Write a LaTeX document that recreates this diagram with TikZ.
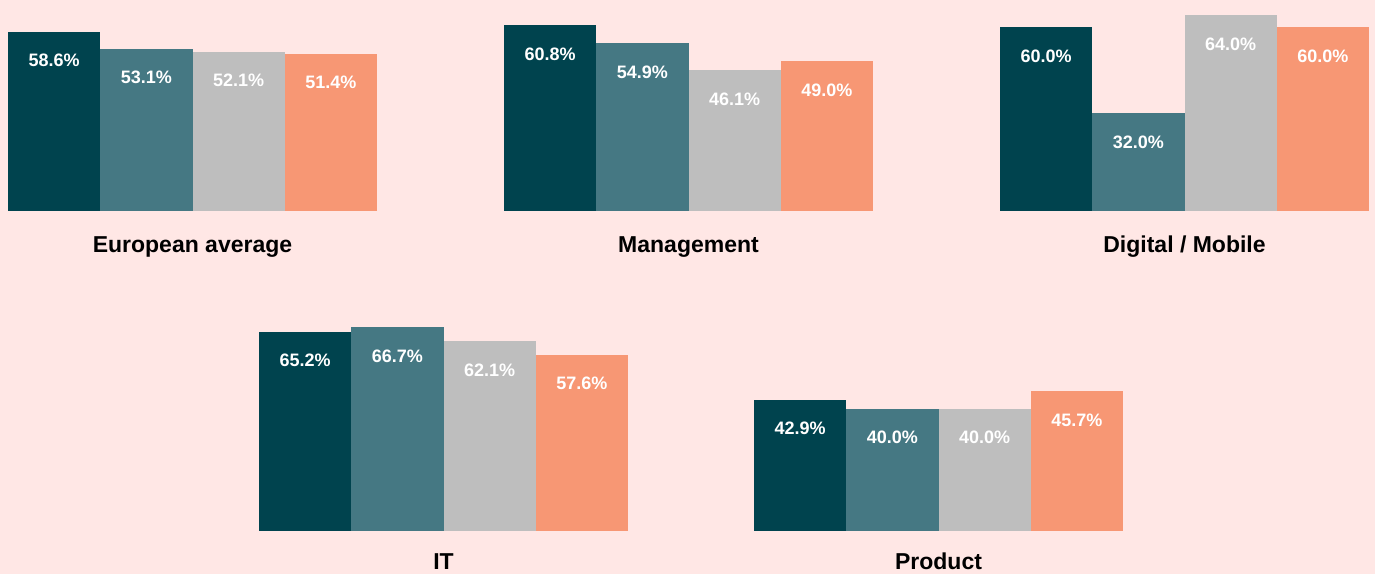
\documentclass[tikz,border=0pt]{standalone}
\usepackage{fontspec}
\setmainfont{Liberation Sans}
\usetikzlibrary{positioning}
\definecolor{deepteal}{HTML}{00434E}
\definecolor{midteal}{HTML}{457883}
\definecolor{softgray}{HTML}{BEBEBE}
\definecolor{salmon}{HTML}{F79774}
\definecolor{blush}{HTML}{FFE7E5}

\begin{document}
\begin{tikzpicture}[x=1pt, y=-1pt,
    bar/.style={minimum width=92.25pt, inner sep=0, outer sep=0, anchor=south west},
    val/.style={text=white, inner sep=0, font=\bfseries\fontsize{18}{18}\selectfont},
    cat/.style={anchor=north, inner sep=0, font=\bfseries\fontsize{23}{23}\selectfont}]
  \fill[blush] (0,0) rectangle (1375,574);
  \useasboundingbox (0,0) rectangle (1375,574);

  % European average
  \node[bar, fill=deepteal, minimum height=179.3pt] (eu1) at (8,211) {};
  \node[bar, fill=midteal, minimum height=162.5pt] (eu2) at (eu1.south east) {};
  \node[bar, fill=softgray, minimum height=159.4pt] (eu3) at (eu2.south east) {};
  \node[bar, fill=salmon, minimum height=157.3pt] (eu4) at (eu3.south east) {};
  \node[val] (eu1v) at ([yshift=-29pt]eu1.north) {58.6\%};
  \node[val] (eu2v) at ([yshift=-29pt]eu2.north) {53.1\%};
  \node[val] (eu3v) at ([yshift=-29pt]eu3.north) {52.1\%};
  \node[val] (eu4v) at ([yshift=-29pt]eu4.north) {51.4\%};
  \node[cat, below=25pt of eu2.south east] (eulab) {European average};

  % Management
  \node[bar, fill=deepteal, minimum height=186.0pt] (mg1) at (504,211) {};
  \node[bar, fill=midteal, minimum height=168.0pt] (mg2) at (mg1.south east) {};
  \node[bar, fill=softgray, minimum height=141.1pt] (mg3) at (mg2.south east) {};
  \node[bar, fill=salmon, minimum height=149.9pt] (mg4) at (mg3.south east) {};
  \node[val] (mg1v) at ([yshift=-29pt]mg1.north) {60.8\%};
  \node[val] (mg2v) at ([yshift=-29pt]mg2.north) {54.9\%};
  \node[val] (mg3v) at ([yshift=-29pt]mg3.north) {46.1\%};
  \node[val] (mg4v) at ([yshift=-29pt]mg4.north) {49.0\%};
  \node[cat, below=25pt of mg2.south east] (mglab) {Management};

  % Digital / Mobile
  \node[bar, fill=deepteal, minimum height=183.6pt] (dm1) at (1000,211) {};
  \node[bar, fill=midteal, minimum height=97.9pt] (dm2) at (dm1.south east) {};
  \node[bar, fill=softgray, minimum height=195.8pt] (dm3) at (dm2.south east) {};
  \node[bar, fill=salmon, minimum height=183.6pt] (dm4) at (dm3.south east) {};
  \node[val] (dm1v) at ([yshift=-29pt]dm1.north) {60.0\%};
  \node[val] (dm2v) at ([yshift=-29pt]dm2.north) {32.0\%};
  \node[val] (dm3v) at ([yshift=-29pt]dm3.north) {64.0\%};
  \node[val] (dm4v) at ([yshift=-29pt]dm4.north) {60.0\%};
  \node[cat, below=25pt of dm2.south east] (dmlab) {Digital / Mobile};

  % IT
  \node[bar, fill=deepteal, minimum height=199.5pt] (it1) at (259,531) {};
  \node[bar, fill=midteal, minimum height=204.1pt] (it2) at (it1.south east) {};
  \node[bar, fill=softgray, minimum height=190.0pt] (it3) at (it2.south east) {};
  \node[bar, fill=salmon, minimum height=176.3pt] (it4) at (it3.south east) {};
  \node[val] (it1v) at ([yshift=-29pt]it1.north) {65.2\%};
  \node[val] (it2v) at ([yshift=-29pt]it2.north) {66.7\%};
  \node[val] (it3v) at ([yshift=-29pt]it3.north) {62.1\%};
  \node[val] (it4v) at ([yshift=-29pt]it4.north) {57.6\%};
  \node[cat, below=22pt of it2.south east] (itlab) {IT};

  % Product
  \node[bar, fill=deepteal, minimum height=131.3pt] (pr1) at (754,531) {};
  \node[bar, fill=midteal, minimum height=122.4pt] (pr2) at (pr1.south east) {};
  \node[bar, fill=softgray, minimum height=122.4pt] (pr3) at (pr2.south east) {};
  \node[bar, fill=salmon, minimum height=139.8pt] (pr4) at (pr3.south east) {};
  \node[val] (pr1v) at ([yshift=-29pt]pr1.north) {42.9\%};
  \node[val] (pr2v) at ([yshift=-29pt]pr2.north) {40.0\%};
  \node[val] (pr3v) at ([yshift=-29pt]pr3.north) {40.0\%};
  \node[val] (pr4v) at ([yshift=-29pt]pr4.north) {45.7\%};
  \node[cat, below=22pt of pr2.south east] (prlab) {Product};
\end{tikzpicture}
\end{document}
